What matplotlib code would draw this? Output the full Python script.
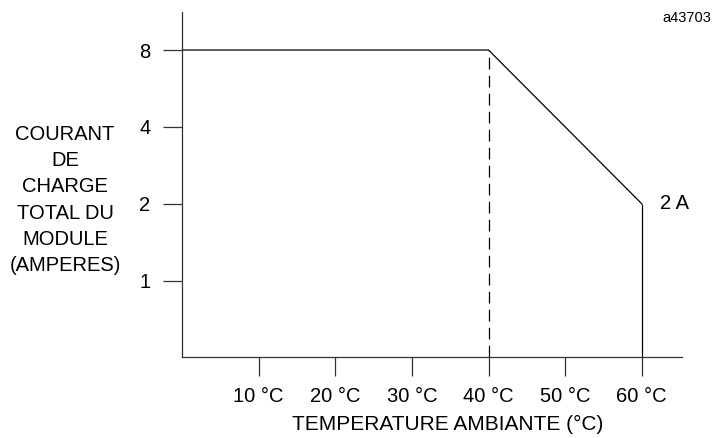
import numpy as np
import matplotlib.pyplot as plt

plt.rcParams['font.family'] = ['Liberation Sans', 'DejaVu Sans']

# données
temperature = [0, 40, 60]
courant = [8, 8, 2]
x_ticks = [10, 20, 30, 40, 50, 60]
x_labels = ['10 °C', '20 °C', '30 °C', '40 °C', '50 °C', '60 °C']
y_ticks = [1, 2, 4, 8]
y_labels = ['1', '2', '4', '8']

fig = plt.figure(figsize=(7.16, 4.38), dpi=100)
ax = fig.add_axes([0.2542, 0.1856, 0.952 - 0.2542, 0.9733 - 0.1856])

ax.set_yscale('log', base=2)
ax.set_xlim(0, 65.2)
ax.set_ylim(0.504, 11.3)
ymin = ax.get_ylim()[0]

# courbe de déclassement
ax.plot(temperature, courant, color='black', linewidth=0.9, solid_joinstyle='miter')
ax.vlines(temperature[2], ymin, courant[2], color='black', linewidth=0.9)
ax.vlines(temperature[1], ymin, courant[1], color='black', linewidth=0.9,
          linestyles=(0, (9.4, 5)))

ax.set_xticks(x_ticks)
ax.set_xticklabels(x_labels)
ax.set_yticks(y_ticks)
ax.set_yticklabels(y_labels)
ax.minorticks_off()

ax.tick_params(axis='both', direction='out', length=13.7, width=0.9,
               color='#333333', labelsize=14.5)
ax.tick_params(axis='y', pad=9)
ax.tick_params(axis='x', pad=8)

for side in ['top', 'right']:
    ax.spines[side].set_visible(False)
for side in ['left', 'bottom']:
    ax.spines[side].set_linewidth(0.9)
    ax.spines[side].set_color('#333333')

ax.set_xlabel('TEMPERATURE AMBIANTE (°C)', fontsize=15)
ax.xaxis.set_label_coords(0.531, -0.17)

fig.text(65 / 716, 1 - 200 / 438,
         'COURANT\nDE\nCHARGE\nTOTAL DU\nMODULE\n(AMPERES)',
         ha='center', va='center', multialignment='center',
         fontsize=14.5, linespacing=1.47)

ax.text(62.4, courant[2], '2 A', ha='left', va='center', fontsize=14.5)
fig.text(711.7 / 716, 1 - 18 / 438, 'a43703', ha='right', va='center',
         fontsize=10.5)

fig.savefig('out.png', dpi=100)
